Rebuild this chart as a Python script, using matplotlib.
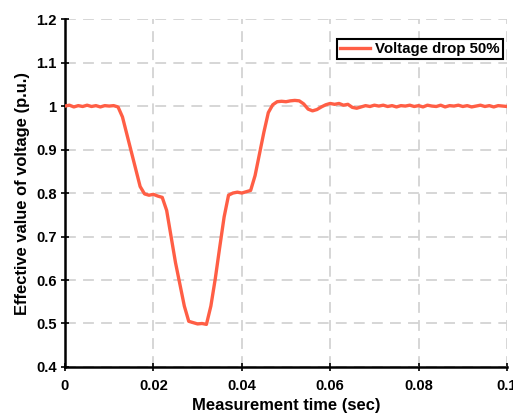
import matplotlib
matplotlib.use("Agg")
import matplotlib.pyplot as plt
import numpy as np
from matplotlib.ticker import FuncFormatter

plt.rcParams['font.family'] = ['Liberation Sans', 'DejaVu Sans']
plt.rcParams['font.weight'] = 'bold'

# time step 0.001 s
t_step = 0.001
voltage = [
    1.000, 1.002, 0.998, 1.001, 0.999, 1.002, 0.999, 1.001, 0.998, 1.001,
    1.000, 1.001, 0.998, 0.975, 0.935, 0.895, 0.855, 0.815, 0.798, 0.795,
    0.797, 0.793, 0.790, 0.760, 0.700, 0.640, 0.590, 0.540, 0.505, 0.502,
    0.499, 0.500, 0.498, 0.540, 0.603, 0.675, 0.745, 0.795, 0.800, 0.802,
    0.800, 0.803, 0.806, 0.840, 0.890, 0.940, 0.985, 1.003, 1.010, 1.011,
    1.010, 1.012, 1.013, 1.012, 1.005, 0.993, 0.989, 0.992, 0.998, 1.003,
    1.006, 1.004, 1.006, 1.002, 1.004, 0.997, 0.995, 0.998, 1.001, 0.999,
    1.002, 1.000, 1.002, 0.999, 1.001, 0.998, 1.001, 1.000, 1.002, 0.999,
    1.001, 0.998, 1.002, 1.000, 0.999, 1.002, 0.998, 1.001, 1.000, 1.002,
    0.999, 1.001, 0.998, 1.000, 1.002, 0.999, 1.001, 0.998, 1.001, 1.000,
    0.999,
]
time = np.arange(len(voltage)) * t_step

x_ticks = [0, 0.02, 0.04, 0.06, 0.08, 0.1]
y_ticks = [0.4, 0.5, 0.6, 0.7, 0.8, 0.9, 1.0, 1.1, 1.2]

fig = plt.figure(figsize=(5.13, 4.15), dpi=100)
ax = fig.add_axes([0.1267, 0.1157, 0.8616, 0.8383])

ax.plot(time, voltage, color='#FF5E45', lw=2.4, label='Voltage drop 50%', zorder=3)

ax.set_xlim(0, 0.1)
ax.set_ylim(0.4, 1.2)
ax.set_xticks(x_ticks)
ax.set_yticks(y_ticks)
fmt = FuncFormatter(lambda v, p: ('%g' % round(v, 4)))
ax.xaxis.set_major_formatter(fmt)
ax.yaxis.set_major_formatter(fmt)

ax.grid(True, color='#d3d3d3', linestyle=(0, (6, 4)), linewidth=1.3)
for s in ['top', 'right']:
    ax.spines[s].set_visible(False)
for s in ['left', 'bottom']:
    ax.spines[s].set_linewidth(1.8)

ax.tick_params(direction='inout', length=6, width=1.2, labelsize=10.6)
ax.tick_params(axis='x', pad=6)
ax.tick_params(axis='y', pad=3)
for lab in ax.get_xticklabels() + ax.get_yticklabels():
    lab.set_fontweight('bold')

ax.set_xlabel('Measurement time (sec)', fontsize=11.9, fontweight='bold', labelpad=3)
ax.set_ylabel('Effective value of voltage (p.u.)', fontsize=11.9, fontweight='bold', labelpad=4)

leg = ax.legend(loc='upper right', bbox_to_anchor=(0.99, 0.943), fontsize=10.8, frameon=True,
                fancybox=False, edgecolor='black', framealpha=1, handlelength=2.0,
                borderpad=0.2, handletextpad=0.3, borderaxespad=0)
leg.get_frame().set_linewidth(1.5)
for txt in leg.get_texts():
    txt.set_fontweight('bold')

fig.savefig('out.png', dpi=100)
